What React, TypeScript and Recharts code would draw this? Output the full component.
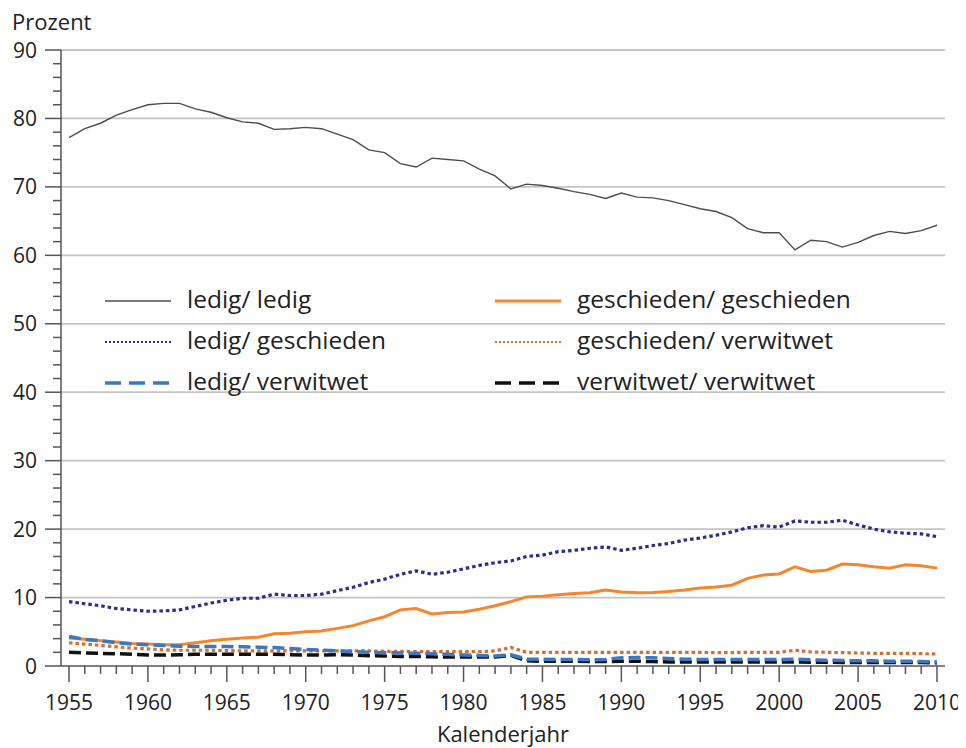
import React from 'react';
import {
  LineChart,
  Line,
  XAxis,
  YAxis,
  CartesianGrid,
  Legend,
} from 'recharts';

// Kalenderjahre 1955-2010
const years = [
  1955, 1956, 1957, 1958, 1959, 1960, 1961, 1962, 1963, 1964,
  1965, 1966, 1967, 1968, 1969, 1970, 1971, 1972, 1973, 1974,
  1975, 1976, 1977, 1978, 1979, 1980, 1981, 1982, 1983, 1984,
  1985, 1986, 1987, 1988, 1989, 1990, 1991, 1992, 1993, 1994,
  1995, 1996, 1997, 1998, 1999, 2000, 2001, 2002, 2003, 2004,
  2005, 2006, 2007, 2008, 2009, 2010,
];

const ledigLedig = [
  77.2, 78.5, 79.3, 80.5, 81.3, 82.0, 82.2, 82.2, 81.4, 80.9,
  80.1, 79.5, 79.3, 78.4, 78.5, 78.7, 78.5, 77.7, 76.9, 75.4,
  75.0, 73.4, 72.9, 74.2, 74.0, 73.8, 72.6, 71.6, 69.7, 70.4,
  70.2, 69.8, 69.3, 68.9, 68.3, 69.1, 68.5, 68.4, 68.0, 67.4,
  66.8, 66.4, 65.5, 63.9, 63.3, 63.3, 60.8, 62.2, 62.0, 61.2,
  61.9, 62.9, 63.5, 63.2, 63.6, 64.4,
];

const ledigGeschieden = [
  9.4, 9.1, 8.8, 8.4, 8.2, 8.0, 8.05, 8.2, 8.7, 9.2,
  9.6, 9.9, 9.9, 10.5, 10.3, 10.3, 10.5, 11.0, 11.5, 12.2,
  12.7, 13.4, 13.9, 13.4, 13.7, 14.2, 14.7, 15.1, 15.35, 16.0,
  16.2, 16.7, 16.9, 17.2, 17.4, 16.9, 17.2, 17.6, 17.9, 18.4,
  18.7, 19.1, 19.6, 20.2, 20.5, 20.3, 21.2, 21.0, 21.0, 21.3,
  20.6, 20.0, 19.6, 19.4, 19.3, 18.9,
];

const ledigVerwitwet = [
  4.3, 3.9, 3.7, 3.4, 3.2, 3.1, 3.0, 2.9, 2.85, 2.85,
  2.85, 2.8, 2.75, 2.7, 2.55, 2.4, 2.3, 2.2, 2.1, 2.0,
  1.95, 1.9, 1.85, 1.8, 1.7, 1.6, 1.55, 1.45, 1.65, 1.0,
  1.0, 0.95, 0.95, 0.9, 0.95, 1.2, 1.25, 1.2, 1.1, 1.0,
  0.95, 0.95, 0.95, 0.95, 0.95, 0.95, 1.0, 0.9, 0.85, 0.8,
  0.75, 0.75, 0.7, 0.7, 0.65, 0.6,
];

const geschiedenGeschieden = [
  4.1, 3.9, 3.7, 3.5, 3.3, 3.2, 3.1, 3.1, 3.4, 3.7,
  3.9, 4.1, 4.2, 4.7, 4.8, 5.0, 5.1, 5.5, 5.9, 6.6,
  7.2, 8.2, 8.4, 7.6, 7.8, 7.9, 8.3, 8.8, 9.4, 10.1,
  10.2, 10.4, 10.6, 10.7, 11.1, 10.8, 10.7, 10.75, 10.9, 11.1,
  11.4, 11.55, 11.8, 12.8, 13.3, 13.45, 14.5, 13.8, 14.0, 14.9,
  14.8, 14.5, 14.3, 14.8, 14.65, 14.3,
];

const geschiedenVerwitwet = [
  3.4, 3.2, 3.0, 2.8, 2.6, 2.5, 2.35, 2.3, 2.3, 2.3,
  2.25, 2.2, 2.2, 2.2, 2.2, 2.2, 2.2, 2.2, 2.2, 2.2,
  2.15, 2.15, 2.1, 2.1, 2.1, 2.1, 2.1, 2.2, 2.7, 2.0,
  2.0, 2.0, 2.0, 2.0, 2.0, 2.0, 2.0, 2.0, 2.0, 2.0,
  2.0, 1.95, 1.95, 2.0, 2.0, 2.0, 2.3, 2.05, 2.0, 1.95,
  1.9, 1.85, 1.85, 1.85, 1.8, 1.75,
];

const verwitwetVerwitwet = [
  2.0, 1.9, 1.85, 1.8, 1.7, 1.6, 1.6, 1.65, 1.7, 1.7,
  1.7, 1.7, 1.7, 1.7, 1.65, 1.6, 1.6, 1.65, 1.6, 1.5,
  1.45, 1.4, 1.4, 1.35, 1.3, 1.3, 1.3, 1.3, 1.55, 0.75,
  0.7, 0.7, 0.7, 0.65, 0.65, 0.7, 0.7, 0.65, 0.6, 0.6,
  0.6, 0.6, 0.6, 0.6, 0.6, 0.6, 0.6, 0.55, 0.55, 0.5,
  0.5, 0.5, 0.5, 0.5, 0.5, 0.45,
];

const yTicks = [0, 2, 4, 6, 8, 10, 12, 14, 16, 18, 20, 22, 24, 26, 28, 30, 32, 34, 36, 38, 40,
  42, 44, 46, 48, 50, 52, 54, 56, 58, 60, 62, 64, 66, 68, 70, 72, 74, 76, 78, 80, 82, 84, 86, 88, 90];
const gridValues = [10, 20, 30, 40, 50, 60, 70, 80, 90];

const series = [
  { key: 'll', name: 'ledig/ ledig', values: ledigLedig, color: '#4d4d4d', width: 1.4, dash: undefined },
  { key: 'gg', name: 'geschieden/ geschieden', values: geschiedenGeschieden, color: '#f5862c', width: 3, dash: undefined },
  { key: 'lg', name: 'ledig/ geschieden', values: ledigGeschieden, color: '#2e2d88', width: 3.2, dash: '3.5 3' },
  { key: 'gv', name: 'geschieden/ verwitwet', values: geschiedenVerwitwet, color: '#cf7030', width: 3.2, dash: '3.5 3' },
  { key: 'lv', name: 'ledig/ verwitwet', values: ledigVerwitwet, color: '#3a78c2', width: 3.5, dash: '12 5' },
  { key: 'vv', name: 'verwitwet/ verwitwet', values: verwitwetVerwitwet, color: '#111111', width: 3.5, dash: '12 5' },
];

const data = years.map((year, i) => {
  const row: Record<string, number> = { year };
  series.forEach((s) => { row[s.key] = s.values[i]; });
  return row;
});

const FONT = '"Open Sans", sans-serif';
const TICK_SIZE = 16;
const Y_MARGIN = 8;
const X_MARGIN = 13;

const YTick = (props: any) => {
  const { x, y, payload } = props;
  const v = payload.value;
  const major = v % 10 === 0;
  const axisX = x + TICK_SIZE + Y_MARGIN;
  return (
    <g>
      <line x1={axisX - (major ? TICK_SIZE : 8)} x2={axisX} y1={y} y2={y} stroke="#555" strokeWidth={1.5} />
      {major && (
        <text x={x} y={y} dy="0.36em" textAnchor="end" fontFamily={FONT} fontSize={21} fill="#222">
          {v}
        </text>
      )}
    </g>
  );
};

const XTick = (props: any) => {
  const { x, y, payload } = props;
  const v = payload.value;
  const major = v % 5 === 0;
  const axisY = y - TICK_SIZE - X_MARGIN;
  return (
    <g>
      <line x1={x} x2={x} y1={axisY} y2={axisY + (major ? TICK_SIZE : 8)} stroke="#555" strokeWidth={1.5} />
      {major && (
        <text x={x} y={y} dy="0.72em" textAnchor="middle" fontFamily={FONT} fontSize={21} fill="#222">
          {v}
        </text>
      )}
    </g>
  );
};

const LegendContent = () => {
  const rows = [
    [series[0], series[1]],
    [series[2], series[3]],
    [series[4], series[5]],
  ];
  return (
    <div style={{ fontFamily: FONT, fontSize: 24.5, color: '#222' }}>
      {rows.map((row, r) => (
        <div key={r} style={{ display: 'flex', height: 41, alignItems: 'center' }}>
          {row.map((s) => (
            <div key={s.key} style={{ display: 'flex', alignItems: 'center', width: 390 }}>
              <svg width={66} height={12} style={{ marginRight: 16 }}>
                <line
                  x1={0}
                  x2={66}
                  y1={6}
                  y2={6}
                  stroke={s.color}
                  strokeWidth={s.dash && s.dash.startsWith('3') ? 2.2 : s.width}
                  strokeDasharray={s.dash && s.dash.startsWith('3') ? '2 2' : s.dash ? '16 8' : undefined}
                />
              </svg>
              <span style={{ lineHeight: '25px', marginTop: -4 }}>{s.name}</span>
            </div>
          ))}
        </div>
      ))}
    </div>
  );
};

export default function App() {
  return (
    <div style={{ position: 'relative', width: 958, height: 740 }}>
      <div
        style={{
          position: 'absolute',
          left: 4,
          top: 0,
          fontFamily: FONT,
          fontSize: 22,
          color: '#222',
          lineHeight: '26px',
        }}
      >
        Prozent
      </div>
      <LineChart width={958} height={740} data={data} margin={{ top: 42, right: 21, bottom: 2, left: 0 }}>
        <CartesianGrid horizontal vertical={false} horizontalValues={gridValues} stroke="#c4c4c4" strokeWidth={1.8} />
        <XAxis
          dataKey="year"
          type="number"
          domain={[1955, 2010]}
          ticks={years}
          interval={0}
          padding={{ left: 8, right: 8 }}
          height={80}
          tickSize={TICK_SIZE}
          tickMargin={X_MARGIN}
          tickLine={false}
          tick={<XTick />}
          axisLine={{ stroke: '#555', strokeWidth: 1.5 }}
          label={{ value: 'Kalenderjahr', position: 'insideBottom', offset: 4, fontFamily: FONT, fontSize: 22, fill: '#222' }}
        />
        <YAxis
          type="number"
          domain={[0, 90]}
          ticks={yTicks}
          interval={0}
          width={53}
          tickSize={TICK_SIZE}
          tickMargin={Y_MARGIN}
          tickLine={false}
          tick={<YTick />}
          axisLine={{ stroke: '#555', strokeWidth: 1.5 }}
        />
        <YAxis
          yAxisId="r"
          orientation="right"
          width={0}
          tick={false}
          tickLine={false}
          axisLine={{ stroke: '#999', strokeWidth: 2 }}
        />
        <Legend
          layout="vertical"
          align="center"
          verticalAlign="middle"
          content={<LegendContent />}
          wrapperStyle={{ left: 97, top: 272, width: 800 }}
        />
        {[series[0], series[2], series[1], series[3], series[5], series[4]].map((s) => (
          <Line
            key={s.key}
            dataKey={s.key}
            name={s.name}
            type="linear"
            stroke={s.color}
            strokeWidth={s.width}
            strokeDasharray={s.dash}
            dot={false}
            activeDot={false}
            isAnimationActive={false}
          />
        ))}
      </LineChart>
    </div>
  );
}
